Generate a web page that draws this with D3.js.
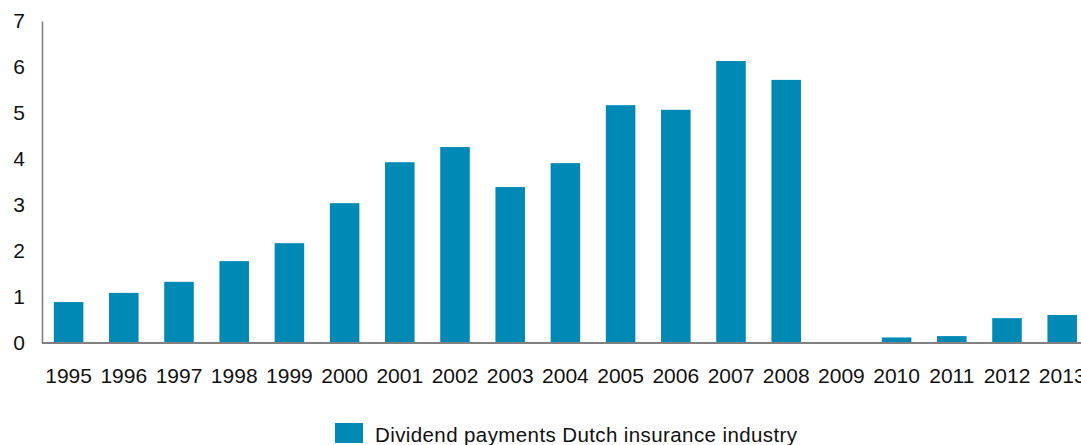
<!DOCTYPE html>
<html>
<head>
<meta charset="utf-8">
<script src="https://cdn.jsdelivr.net/npm/d3@7"></script>
<style>
  html, body { margin: 0; padding: 0; background: #fff; }
  svg { display: block; font-family: "Liberation Sans", Arial, sans-serif; }
</style>
</head>
<body>
<svg id="chart" width="1081" height="445"></svg>
<script>
// Dividend payments of the Dutch insurance industry, per year
const years = ["1995","1996","1997","1998","1999","2000","2001","2002","2003","2004",
               "2005","2006","2007","2008","2009","2010","2011","2012","2013"];
const dividends = [0.89, 1.09, 1.33, 1.78, 2.17, 3.04, 3.93, 4.26, 3.39, 3.91,
                   5.17, 5.07, 6.13, 5.72, 0, 0.12, 0.15, 0.54, 0.61];
const yTicks = [0, 1, 2, 3, 4, 5, 6, 7];
const seriesName = "Dividend payments Dutch insurance industry";

const svg = d3.select("#chart");
const barColor = "#0089b5";
const axisColor = "#808080";
const textColor = "#111";

const x = d3.scaleBand()
  .domain(years)
  .range([41, 41 + 19 * 55.2])
  .paddingInner(0.465)
  .paddingOuter(0.2325);

const y = d3.scaleLinear()
  .domain([0, 7])
  .range([343, 21]);

// bars
svg.append("g")
  .selectAll("rect")
  .data(years.map((yr, i) => ({ year: yr, value: dividends[i] })))
  .join("rect")
  .attr("x", d => x(d.year))
  .attr("width", x.bandwidth())
  .attr("y", d => y(d.value))
  .attr("height", d => y(0) - y(d.value))
  .attr("fill", barColor);

// y axis: line plus labels, no tick marks
const yAxis = svg.append("g")
  .attr("transform", "translate(42,0)")
  .call(d3.axisLeft(y).tickValues(yTicks).tickSize(0).tickPadding(17).tickFormat(d3.format("d")));
yAxis.select(".domain").attr("stroke", axisColor).attr("stroke-width", 1.6);
yAxis.selectAll("text")
  .attr("font-size", 21)
  .attr("fill", textColor)
  .style("font-family", "'Liberation Sans', Arial, sans-serif");

// x axis
const xAxis = svg.append("g")
  .attr("transform", `translate(0,${y(0)})`)
  .call(d3.axisBottom(x).tickSize(0).tickPadding(25));
xAxis.select(".domain")
  .attr("d", `M42,0H1081`)
  .attr("stroke", axisColor)
  .attr("stroke-width", 1.8);
xAxis.selectAll("text")
  .attr("font-size", 21)
  .attr("fill", textColor)
  .style("font-family", "'Liberation Sans', Arial, sans-serif");

// legend
const legend = svg.append("g").attr("transform", "translate(335,423)");
legend.append("rect")
  .attr("width", 28)
  .attr("height", 20)
  .attr("fill", barColor);
legend.append("text")
  .attr("x", 40)
  .attr("y", 19)
  .attr("font-size", 20.5)
  .attr("fill", textColor)
  .attr("textLength", 422)
  .attr("lengthAdjust", "spacing")
  .text(seriesName);
</script>
</body>
</html>
